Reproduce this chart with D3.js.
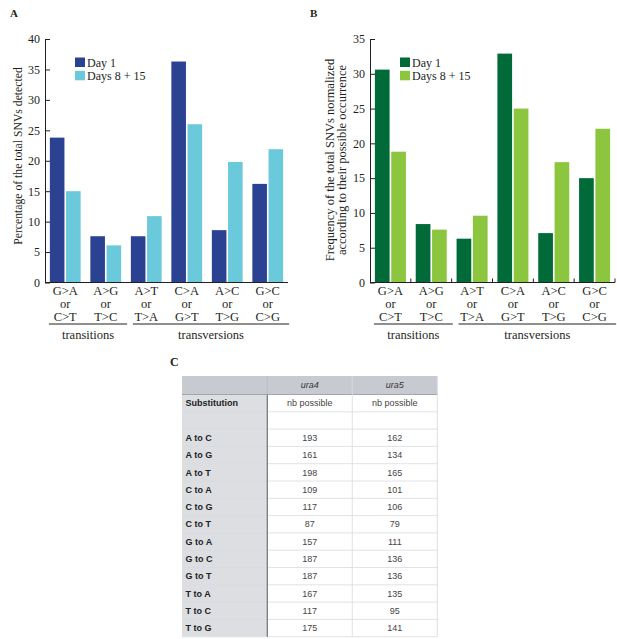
<!DOCTYPE html>
<html>
<head>
<meta charset="utf-8">
<script src="https://cdn.jsdelivr.net/npm/d3@7"></script>
<style>
  body { margin: 0; background: #fff; }
  svg text { fill: #231f20; }
</style>
</head>
<body>
<svg id="fig"></svg>
<script>
// data
const categories = ['G>A or C>T', 'A>G or T>C', 'A>T or T>A', 'C>A or G>T', 'A>C or T>G', 'G>C or C>G'];
const seriesNames = ['Day 1', 'Days 8 + 15'];
const percentDay1 = [23.8, 7.6, 7.6, 36.3, 8.6, 16.2];
const percentDays8to15 = [15.0, 6.1, 10.9, 26.0, 19.8, 21.9];
const normDay1 = [30.6, 8.4, 6.3, 32.9, 7.1, 15.0];
const normDays8to15 = [18.8, 7.6, 9.6, 25.0, 17.3, 22.1];
const groupLabels = ['transitions', 'transversions'];
const groupSpans = [[0, 1], [2, 5]];

const tableHeader = ['', 'ura4', 'ura5'];
const tableSubHeader = ['Substitution', 'nb possible', 'nb possible'];
const substitutions = ['A to C', 'A to G', 'A to T', 'C to A', 'C to G', 'C to T',
                       'G to A', 'G to C', 'G to T', 'T to A', 'T to C', 'T to G'];
const ura4Possible = [193, 161, 198, 109, 117, 87, 157, 187, 187, 167, 117, 175];
const ura5Possible = [162, 134, 165, 101, 106, 79, 111, 136, 136, 135, 95, 141];

const width = 617, height = 639;
const serif = '"Liberation Serif", "Times New Roman", serif';
const sans = '"Liberation Sans", Arial, Helvetica, sans-serif';

const svg = d3.select('#fig')
    .attr('width', width)
    .attr('height', height);

function drawPanel(opts) {
    const g = svg.append('g');
    const y0 = 282.5;

    const x0 = d3.scaleBand()
        .domain(categories)
        .range([opts.left, opts.right])
        .paddingInner(0.24)
        .paddingOuter(0.12);
    const x1 = d3.scaleBand()
        .domain(seriesNames)
        .range([0, x0.bandwidth()])
        .paddingInner(0.1);
    const y = d3.scaleLinear()
        .domain([0, opts.max])
        .range([y0, 39]);

    const rows = categories.map((c, i) => ({
        cat: c,
        values: [opts.series[0][i], opts.series[1][i]]
    }));

    // bars
    g.selectAll('.group')
        .data(rows)
        .enter()
        .append('g')
        .attr('transform', d => `translate(${x0(d.cat)},0)`)
        .selectAll('rect')
        .data(d => d.values.map((v, k) => ({ key: seriesNames[k], v: v, k: k })))
        .enter()
        .append('rect')
        .attr('x', d => x1(d.key))
        .attr('y', d => y(d.v))
        .attr('width', x1.bandwidth())
        .attr('height', d => y0 - y(d.v))
        .style('fill', d => opts.colors[d.k]);

    // y axis, ticks pointing inward
    const yAxis = g.append('g')
        .attr('transform', `translate(${opts.left},0)`)
        .call(d3.axisLeft(y).ticks(opts.max / 5).tickSizeInner(-5).tickSizeOuter(0).tickPadding(5));
    yAxis.selectAll('text')
        .style('font-family', serif)
        .style('font-size', '12px')
        .style('fill', '#231f20');
    yAxis.selectAll('line, path').style('stroke', '#231f20');

    // x axis line
    g.append('line')
        .attr('x1', opts.left)
        .attr('x2', opts.right)
        .attr('y1', y0)
        .attr('y2', y0)
        .style('stroke', '#231f20')
        .style('stroke-width', 1);

    if (opts.xTicks) {
        const step = x0.step();
        g.selectAll('.xtick')
            .data(categories)
            .enter()
            .append('line')
            .attr('x1', d => x0(d) + x0.bandwidth() + (step - x0.bandwidth()) / 2)
            .attr('x2', d => x0(d) + x0.bandwidth() + (step - x0.bandwidth()) / 2)
            .attr('y1', y0)
            .attr('y2', y0 - 4)
            .style('stroke', '#231f20');
    }

    // category labels
    const lab = g.selectAll('.catlab')
        .data(categories)
        .enter()
        .append('text')
        .attr('text-anchor', 'middle')
        .style('font-family', serif)
        .style('font-size', '12.5px');
    lab.selectAll('tspan')
        .data(d => d.split(' ').map(s => ({ s: s, x: x0(d) + x0.bandwidth() / 2 })))
        .enter()
        .append('tspan')
        .attr('x', d => d.x)
        .attr('y', (d, i) => y0 + 12.5 + i * 12.8)
        .text(d => d.s);

    // group brackets
    groupLabels.forEach((name, i) => {
        const a = categories[groupSpans[i][0]];
        const b = categories[groupSpans[i][1]];
        const xa = i === 0 ? x0(a) - 1 : x0(a) + 2;
        const xb = x0(b) + x0.bandwidth() + 6;
        g.append('line')
            .attr('x1', xa)
            .attr('x2', xb)
            .attr('y1', 324)
            .attr('y2', 324)
            .style('stroke', '#231f20');
        g.append('text')
            .attr('x', (xa + xb) / 2)
            .attr('y', 339)
            .attr('text-anchor', 'middle')
            .style('font-family', serif)
            .style('font-size', '12.5px')
            .text(name);
    });

    // legend
    const leg = g.selectAll('.leg')
        .data(seriesNames)
        .enter()
        .append('g')
        .attr('transform', (d, i) => `translate(${opts.legendX},${57.5 + i * 13.3})`);
    leg.append('rect')
        .attr('width', 10)
        .attr('height', 9.5)
        .style('fill', (d, i) => opts.colors[i]);
    leg.append('text')
        .attr('x', 12)
        .attr('y', 9)
        .style('font-family', serif)
        .style('font-size', '12px')
        .text(d => d);

    // y label
    const yl = g.append('text')
        .attr('transform', `translate(${opts.yLabelX},${opts.yLabelY}) rotate(-90)`)
        .attr('text-anchor', 'middle')
        .style('font-family', serif)
        .style('font-size', opts.yLabelSize);
    opts.yLabel.forEach((t, i) => {
        yl.append('tspan')
            .attr('x', 0)
            .attr('y', i * 12.3)
            .text(t);
    });

    // panel letter
    g.append('text')
        .attr('x', opts.letterX)
        .attr('y', 17)
        .style('font-family', serif)
        .style('font-weight', 'bold')
        .style('font-size', '11px')
        .text(opts.letter);
}

drawPanel({
    letter: 'A', letterX: 10,
    left: 45, right: 288, max: 40,
    series: [percentDay1, percentDays8to15],
    colors: ['#2b4293', '#6bc9dc'],
    legendX: 75,
    yLabel: ['Percentage of the total SNVs detected'],
    yLabelX: 22, yLabelY: 156, yLabelSize: '11.7px',
    xTicks: false
});

drawPanel({
    letter: 'B', letterX: 310,
    left: 370, right: 615, max: 35,
    series: [normDay1, normDays8to15],
    colors: ['#006b38', '#8cc63f'],
    legendX: 400,
    yLabel: ['Frequency of the total SNVs normalized', 'according to their possible occurrence'],
    yLabelX: 334, yLabelY: 160, yLabelSize: '12.5px',
    xTicks: true
});

// panel C: table
function drawTable() {
    const g = svg.append('g');
    const colX = [182, 267.3, 352.3, 437.3];
    const headTop = 376, headBottom = 394.5;
    const bodyRows = [tableSubHeader, ['', '', '']].concat(
        substitutions.map((s, i) => [s, String(ura4Possible[i]), String(ura5Possible[i])])
    );
    const ry = d3.scaleBand()
        .domain(d3.range(bodyRows.length))
        .range([headBottom, 636.7]);

    g.append('text')
        .attr('x', 170)
        .attr('y', 366)
        .style('font-family', serif)
        .style('font-weight', 'bold')
        .style('font-size', '12px')
        .text('C');

    // backgrounds
    g.append('rect')
        .attr('x', colX[0]).attr('y', headTop)
        .attr('width', colX[3] - colX[0]).attr('height', headBottom - headTop)
        .style('fill', '#c7cbd1');
    g.append('rect')
        .attr('x', colX[0]).attr('y', headBottom)
        .attr('width', colX[1] - colX[0]).attr('height', ry.range()[1] - headBottom)
        .style('fill', '#dcdee2');

    // row lines
    g.selectAll('.rowline')
        .data(d3.range(1, bodyRows.length + 1))
        .enter()
        .append('line')
        .attr('x1', colX[0]).attr('x2', colX[3])
        .attr('y1', d => ry(d - 1) + ry.bandwidth())
        .attr('y2', d => ry(d - 1) + ry.bandwidth())
        .style('stroke', '#d9dbde')
        .style('stroke-width', 0.8);
    g.append('line')
        .attr('x1', colX[0]).attr('x2', colX[3])
        .attr('y1', headBottom).attr('y2', headBottom)
        .style('stroke', '#a3a7ad');

    // column lines
    g.append('line')
        .attr('x1', colX[2]).attr('x2', colX[2])
        .attr('y1', headTop).attr('y2', ry.range()[1])
        .style('stroke', '#d9dbde').style('stroke-width', 0.8);
    g.append('line')
        .attr('x1', colX[3]).attr('x2', colX[3])
        .attr('y1', headTop).attr('y2', ry.range()[1])
        .style('stroke', '#d4d6d9').style('stroke-width', 0.8);
    g.append('line')
        .attr('x1', colX[1]).attr('x2', colX[1])
        .attr('y1', headBottom).attr('y2', ry.range()[1])
        .style('stroke', '#6f7277').style('stroke-width', 1.2);
    g.append('line')
        .attr('x1', colX[1]).attr('x2', colX[1])
        .attr('y1', headTop).attr('y2', headBottom)
        .style('stroke', '#b5b9bf').style('stroke-width', 0.8);

    // header text
    g.selectAll('.head')
        .data(tableHeader.slice(1))
        .enter()
        .append('text')
        .attr('x', (d, i) => (colX[i + 1] + colX[i + 2]) / 2)
        .attr('y', (headTop + headBottom) / 2 + 3.2)
        .attr('text-anchor', 'middle')
        .style('font-family', sans)
        .style('font-style', 'italic')
        .style('font-size', '9px')
        .style('fill', '#333')
        .text(d => d);

    // body text
    const rowG = g.selectAll('.row')
        .data(bodyRows)
        .enter()
        .append('g')
        .attr('transform', (d, i) => `translate(0,${ry(i) + ry.bandwidth() / 2 + 3.2})`);
    rowG.append('text')
        .attr('x', colX[0] + 3.5)
        .style('font-family', sans)
        .style('font-weight', 'bold')
        .style('font-size', '9px')
        .style('fill', '#222')
        .text(d => d[0]);
    rowG.selectAll('.cell')
        .data(d => d.slice(1))
        .enter()
        .append('text')
        .attr('x', (d, i) => (colX[i + 1] + colX[i + 2]) / 2)
        .attr('text-anchor', 'middle')
        .style('font-family', sans)
        .style('font-size', '9px')
        .style('fill', '#444')
        .text(d => d);
}

drawTable();
</script>
</body>
</html>
